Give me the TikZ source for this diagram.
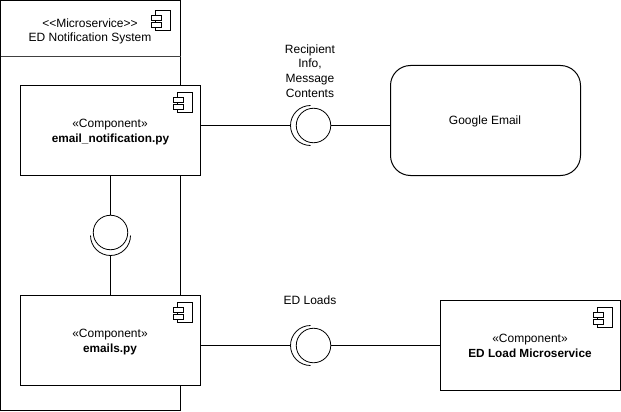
\documentclass[tikz,border=0pt]{standalone}
\usepackage{fontspec}
\setmainfont{Liberation Sans}
\tikzset{
  ln/.style={draw=black,line width=1pt,outer sep=0pt},
  thin ln/.style={draw=black,line width=0.8pt,outer sep=0pt},
  boxnode/.style={ln,fill=white,rectangle,minimum width=180pt,minimum height=90pt,inner sep=0pt,anchor=north west},
  roundbox/.style={ln,fill=white,rectangle,rounded corners=20pt,minimum width=190pt,minimum height=110pt,inner sep=0pt,anchor=north west},
  ball/.style={thin ln,fill=white,circle,minimum size=34.5pt,inner sep=0pt},
  lbl/.style={inner sep=0pt,anchor=base,font=\fontsize{12pt}{14.7pt}\selectfont,align=center,text=black},
  bld/.style={lbl,font=\fontsize{11.8pt}{14.7pt}\selectfont\bfseries},
  pics/icon/.style={code={
    \draw[ln,fill=white] (-15,0) rectangle (0,20);
    \draw[ln,fill=white] (-19,5) rectangle (-9,10);
    \draw[ln,fill=white] (-19,12) rectangle (-9,17);
  }}
}
\begin{document}
\begin{tikzpicture}[x=1pt,y=-1pt]
\useasboundingbox (0,0) rectangle (621,412);
% outer microservice
\node[ln,rectangle,minimum width=180pt,minimum height=410pt,inner sep=0pt,anchor=north west] (outer) at (0.5,0.5) {};
\draw[draw=black!75,line width=1.2pt] (outer.west |- 0,56.5) coordinate (divl) -- (outer.east |- 0,56.5) coordinate (divr);
\pic at (170,10.5) {icon};
\node[lbl] (mt) at (90,27.5) {<{}<Microservice>{}>};
\node[lbl] (mn) at (90,42) {ED Notification System};
% boxes
\node[boxnode] (en) at (20.5,85.5) {};
\pic at (192.5,92.5) {icon};
\node[lbl] (ent) at (110,127) {«Component»};
\node[bld] (enn) at (110.5,142) {email\_notification.py};
\node[boxnode] (em) at (20.5,295.5) {};
\pic at (192.5,302.5) {icon};
\node[lbl] (emt) at (110,337) {«Component»};
\node[bld] (emn) at (110,352) {emails.py};
\node[boxnode] (ed) at (440.5,300.5) {};
\pic at (612.5,307.5) {icon};
\node[lbl] (edt) at (530,342) {«Component»};
\node[bld] (edn) at (530,357) {ED Load Microservice};
\node[roundbox] (gm) at (390.5,65.5) {};
\node[lbl] (gmt) at (485,124.5) {Google Email};
% interfaces
\node[ball] (b1) at (313.5,125.5) {};
\coordinate (a1) at (290.5,125.5);
\draw[thin ln] (310.5,105.5) arc[start angle=90,end angle=270,radius=20pt];
\node[ball] (b2) at (313.5,345.5) {};
\coordinate (a2) at (290.5,345.5);
\draw[thin ln] (310.5,325.5) arc[start angle=90,end angle=270,radius=20pt];
\node[ball] (b3) at (110.5,232.5) {};
\coordinate (a3) at (110.5,255.5);
\draw[thin ln] (90.5,235.5) arc[start angle=180,end angle=360,radius=20pt];
% connectors
\draw[ln] (en.east |- a1) -- (a1);
\draw[ln] (b1.east) -- (gm.west |- b1.east);
\draw[ln] (em.east |- a2) -- (a2);
\draw[ln] (b2.east) -- (ed.west |- b2.east);
\draw[ln] (en.south) -- (b3.north);
\draw[ln] (a3) -- (em.north);
% labels
\node[lbl,anchor=center] (l1) at (310,71) {Recipient\\Info,\\Message\\Contents};
\node[lbl] (l2) at (310,304) {ED Loads};
\end{tikzpicture}
\end{document}
